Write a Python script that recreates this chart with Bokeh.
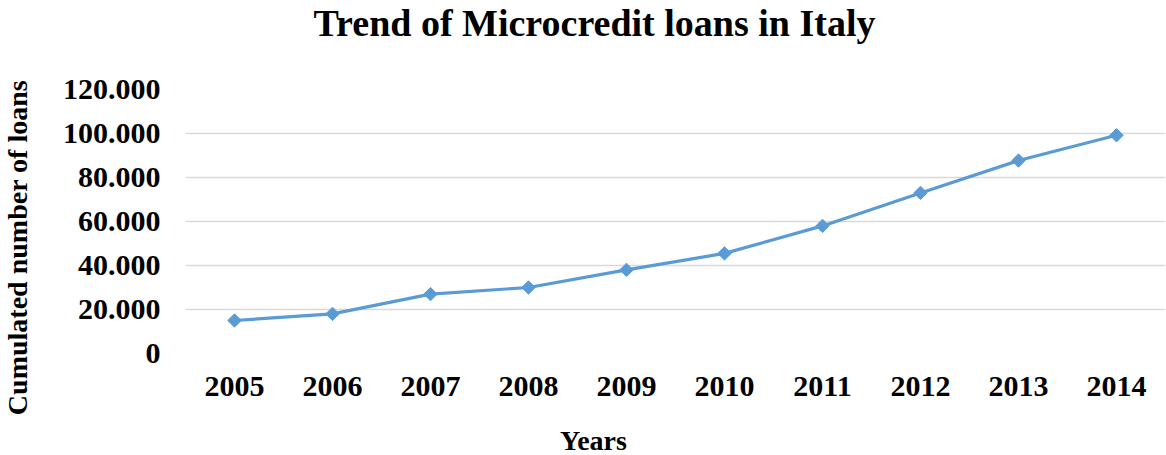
import numpy as np
from bokeh.plotting import figure
from bokeh.layouts import row, column
from bokeh.models import FixedTicker, Range1d, FactorRange
from bokeh.core.properties import value
from bokeh.embed import file_html
from bokeh.resources import INLINE

years = ["2005", "2006", "2007", "2008", "2009", "2010", "2011", "2012", "2013", "2014"]
loans = [15000, 18000, 27000, 30000, 38000, 45500, 58000, 73000, 87700, 99200]
y_ticks = [0, 20000, 40000, 60000, 80000, 100000, 120000]
y_tick_labels = ["0", "20.000", "40.000", "60.000", "80.000", "100.000", "120.000"]
title_text = "Trend of Microcredit loans in Italy"
x_title = "Years"
y_title = "Cumulated number of loans"

FONT = "Liberation Serif"
BLUE = "#5B9BD5"
GRID = "#D9D9D9"

LEFT_W = 40
RIGHT_W = 1166 - LEFT_W
TOTAL_H = 455
TITLE_H = 70
MAIN_H = 343
BOTTOM_H = TOTAL_H - TITLE_H - MAIN_H
FRAME_L = 185 - LEFT_W
FRAME_R = 1


def blank(w, h, bl=0, br=0):
    f = figure(width=w, height=h, output_backend="svg", toolbar_location=None,
               x_range=Range1d(bl, w - br), y_range=Range1d(0, h),
               x_axis_location=None, y_axis_location=None,
               min_border=0, min_border_left=bl, min_border_right=br,
               min_border_top=0, min_border_bottom=0)
    f.title.text_font_size = "0px"
    f.title.standoff = 0
    f.outline_line_color = None
    f.grid.visible = False
    f.background_fill_color = "white"
    f.border_fill_color = "white"
    return f


# left strip: y axis title
left = blank(LEFT_W, TOTAL_H)
left.text(x=[17], y=[TOTAL_H - 247], text=[y_title], angle=np.pi / 2,
          text_font=value(FONT), text_font_size="28px", text_font_style="bold",
          text_color="#000000", text_align="center", text_baseline="middle")

# top: chart title
top = blank(RIGHT_W, TITLE_H, FRAME_L, FRAME_R)
top.text(x=[594 - LEFT_W], y=[TITLE_H - 22], text=[title_text],
         text_font=value(FONT), text_font_size="38px", text_font_style="bold",
         text_color="#000000", text_align="center", text_baseline="middle")

# main chart
p = figure(width=RIGHT_W, height=MAIN_H, output_backend="svg", toolbar_location=None,
           x_range=FactorRange(*years, range_padding=0), y_range=Range1d(0, 120000),
           min_border_left=FRAME_L, min_border_right=FRAME_R, min_border_top=89 - TITLE_H,
           min_border_bottom=MAIN_H - (89 - TITLE_H) - 264)
p.outline_line_color = None
p.background_fill_color = "white"
p.border_fill_color = "white"

p.line(years, loans, line_color=BLUE, line_width=3.2)
p.scatter(years, loans, marker="square", size=9.5, angle=np.pi / 4, fill_color=BLUE, line_color=BLUE)

p.yaxis.ticker = FixedTicker(ticks=y_ticks)
p.yaxis.major_label_overrides = {t: l for t, l in zip(y_ticks, y_tick_labels)}
for ax in (p.xaxis, p.yaxis):
    ax.axis_line_color = None
    ax.major_tick_line_color = None
    ax.minor_tick_line_color = None
    ax.major_tick_out = 0
    ax.major_tick_in = 0
    ax.minor_tick_out = 0
    ax.minor_tick_in = 0
    ax.major_label_text_font = FONT
    ax.major_label_text_font_size = "30px"
    ax.major_label_text_font_style = "bold"
    ax.major_label_text_color = "#000000"
p.yaxis.major_label_standoff = 25
p.xaxis.major_label_standoff = 23

p.xgrid.grid_line_color = None
p.ygrid.grid_line_color = GRID
p.ygrid.grid_line_width = 1.5

# bottom: x axis title
bottom = blank(RIGHT_W, BOTTOM_H, FRAME_L, FRAME_R)
bottom.text(x=[593 - LEFT_W], y=[TOTAL_H - 440], text=[x_title],
            text_font=value(FONT), text_font_size="28px", text_font_style="bold",
            text_color="#000000", text_align="center", text_baseline="middle")

layout = row(left, column(top, p, bottom, spacing=0), spacing=0)
open("out.html", "w").write(file_html(layout, INLINE))
